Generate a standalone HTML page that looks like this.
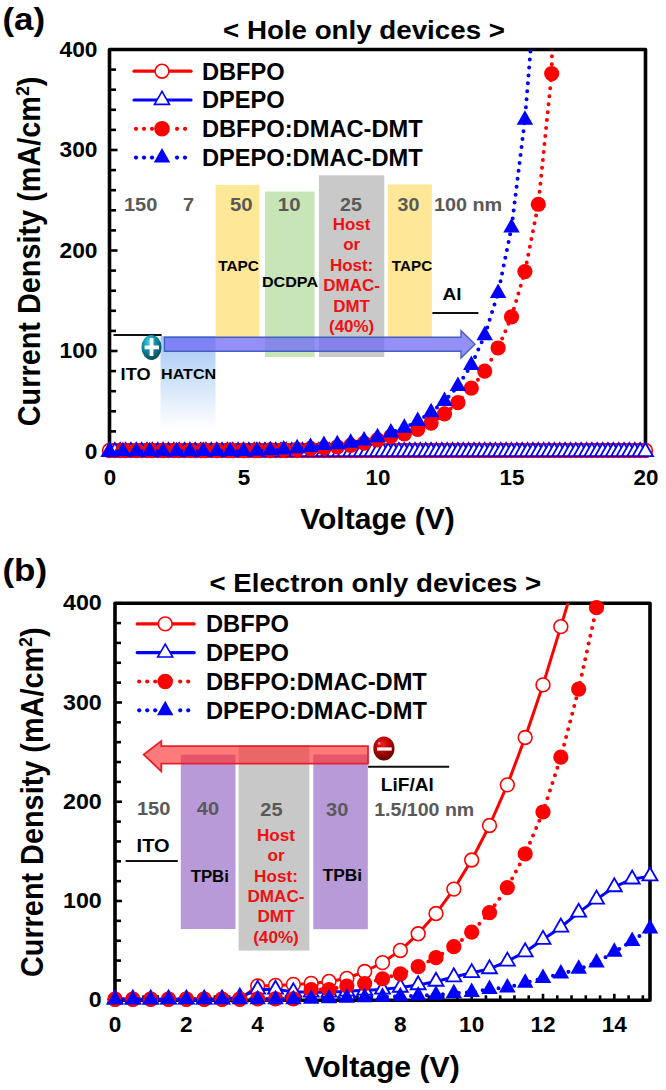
<!DOCTYPE html>
<html><head><meta charset="utf-8"><style>
html,body{margin:0;padding:0;background:#fff;}
svg{display:block;font-family:"Liberation Sans", sans-serif;}
</style></head><body>
<svg width="666" height="1090" viewBox="0 0 666 1090">
<rect width="666" height="1090" fill="#fff"/>
<defs>
<clipPath id="ca"><rect x="109.5" y="49.5" width="556.0" height="422.0"/></clipPath>
<clipPath id="cb"><rect x="115" y="603.2" width="560" height="420"/></clipPath>
<linearGradient id="hatcn" x1="0" y1="0" x2="0" y2="1"><stop offset="0" stop-color="#a3c7f4"/><stop offset="1" stop-color="#ffffff"/></linearGradient>
<radialGradient id="plusg" cx="0.38" cy="0.28" r="0.8"><stop offset="0" stop-color="#40d0e8"/><stop offset="0.45" stop-color="#1188a0"/><stop offset="1" stop-color="#064048"/></radialGradient>
<radialGradient id="minusg" cx="0.42" cy="0.3" r="0.85"><stop offset="0" stop-color="#f02020"/><stop offset="0.4" stop-color="#b80000"/><stop offset="1" stop-color="#3a0000"/></radialGradient>
</defs>
<rect x="160.5" y="336" width="55" height="92" fill="url(#hatcn)"/>
<rect x="215.6" y="184.9" width="43.9" height="152.5" fill="#fee796"/>
<rect x="265" y="191.5" width="49.6" height="165.5" fill="#c8e5b7"/>
<rect x="318.9" y="175.3" width="65.4" height="181.7" fill="#c9c9c9"/>
<rect x="387.8" y="184.5" width="44.1" height="152.9" fill="#fee796"/>
<text x="140.7" y="211.2" font-size="18.5" text-anchor="middle" fill="#595959" font-weight="bold" textLength="33.34" lengthAdjust="spacingAndGlyphs" >150</text>
<text x="188.6" y="211.2" font-size="18.5" text-anchor="middle" fill="#595959" font-weight="bold" textLength="11.11" lengthAdjust="spacingAndGlyphs" >7</text>
<text x="241.3" y="211.2" font-size="18.5" text-anchor="middle" fill="#595959" font-weight="bold" textLength="22.64" lengthAdjust="spacingAndGlyphs" >50</text>
<text x="289.2" y="211.2" font-size="18.5" text-anchor="middle" fill="#595959" font-weight="bold" textLength="22.64" lengthAdjust="spacingAndGlyphs" >10</text>
<text x="351" y="211.2" font-size="18.5" text-anchor="middle" fill="#595959" font-weight="bold" textLength="21.81" lengthAdjust="spacingAndGlyphs" >25</text>
<text x="408.5" y="211.2" font-size="18.5" text-anchor="middle" fill="#595959" font-weight="bold" textLength="21.81" lengthAdjust="spacingAndGlyphs" >30</text>
<text x="434" y="210.5" font-size="18.5" text-anchor="start" fill="#595959" font-weight="bold" textLength="68.22" lengthAdjust="spacingAndGlyphs" >100 nm</text>
<text x="238.6" y="270.7" font-size="14.8" text-anchor="middle" fill="#000" font-weight="bold" textLength="40.76" lengthAdjust="spacingAndGlyphs" >TAPC</text>
<text x="290" y="287" font-size="15.2" text-anchor="middle" fill="#000" font-weight="bold" textLength="56.09" lengthAdjust="spacingAndGlyphs" >DCDPA</text>
<text x="412" y="271" font-size="14.8" text-anchor="middle" fill="#000" font-weight="bold" textLength="40.37" lengthAdjust="spacingAndGlyphs" >TAPC</text>
<text x="351.6" y="229.8" font-size="16.3" text-anchor="middle" fill="#f01010" font-weight="bold" textLength="37.67" lengthAdjust="spacingAndGlyphs" >Host</text>
<text x="351.6" y="250.3" font-size="16.3" text-anchor="middle" fill="#f01010" font-weight="bold" textLength="16.95" lengthAdjust="spacingAndGlyphs" >or</text>
<text x="351.6" y="270.8" font-size="16.3" text-anchor="middle" fill="#f01010" font-weight="bold" textLength="43.32" lengthAdjust="spacingAndGlyphs" >Host:</text>
<text x="351.6" y="291.3" font-size="16.3" text-anchor="middle" fill="#f01010" font-weight="bold" textLength="56.49" lengthAdjust="spacingAndGlyphs" >DMAC-</text>
<text x="351.6" y="311.8" font-size="16.3" text-anchor="middle" fill="#f01010" font-weight="bold" textLength="36.72" lengthAdjust="spacingAndGlyphs" >DMT</text>
<text x="351.6" y="332.3" font-size="16.3" text-anchor="middle" fill="#f01010" font-weight="bold" textLength="45.22" lengthAdjust="spacingAndGlyphs" >(40%)</text>
<text x="452" y="300" font-size="17" text-anchor="middle" fill="#000" font-weight="bold" textLength="19.04" lengthAdjust="spacingAndGlyphs" >Al</text>
<line x1="432.4" y1="313" x2="478.4" y2="313" stroke="#111" stroke-width="2"/>
<line x1="113.5" y1="335" x2="161.6" y2="335" stroke="#111" stroke-width="2"/>
<text x="135.6" y="379.9" font-size="16.5" text-anchor="middle" fill="#000" font-weight="bold" textLength="29.92" lengthAdjust="spacingAndGlyphs" >ITO</text>
<text x="188.6" y="378.9" font-size="15" text-anchor="middle" fill="#000" font-weight="bold" textLength="54.98" lengthAdjust="spacingAndGlyphs" >HATCN</text>
<path d="M164.4,337.3 L461,337.3 L461,330.7 L475,344.3 L461,358 L461,351.3 L164.4,351.3 Z" fill="rgba(110,105,245,0.74)" stroke="#4460c0" stroke-width="1.4"/>
<ellipse cx="151.5" cy="347.4" rx="10" ry="12.5" fill="url(#plusg)"/>
<rect x="144.6" y="345.5" width="14.4" height="3.8" fill="#fff"/>
<rect x="149.6" y="338" width="3.8" height="18" fill="#fff"/>
<path d="M109.5,451.5 L109.5,49.5 L645.5,49.5 L645.5,451.5 Z" fill="none" stroke="#000" stroke-width="3.6" stroke-linejoin="round"/>
<line x1="109.5" y1="451.50" x2="117.5" y2="451.50" stroke="#000" stroke-width="2.6"/>
<line x1="109.5" y1="431.40" x2="116.0" y2="431.40" stroke="#000" stroke-width="2.6"/>
<line x1="109.5" y1="411.30" x2="116.0" y2="411.30" stroke="#000" stroke-width="2.6"/>
<line x1="109.5" y1="391.20" x2="116.0" y2="391.20" stroke="#000" stroke-width="2.6"/>
<line x1="109.5" y1="371.10" x2="116.0" y2="371.10" stroke="#000" stroke-width="2.6"/>
<line x1="109.5" y1="351.00" x2="117.5" y2="351.00" stroke="#000" stroke-width="2.6"/>
<line x1="109.5" y1="330.90" x2="116.0" y2="330.90" stroke="#000" stroke-width="2.6"/>
<line x1="109.5" y1="310.80" x2="116.0" y2="310.80" stroke="#000" stroke-width="2.6"/>
<line x1="109.5" y1="290.70" x2="116.0" y2="290.70" stroke="#000" stroke-width="2.6"/>
<line x1="109.5" y1="270.60" x2="116.0" y2="270.60" stroke="#000" stroke-width="2.6"/>
<line x1="109.5" y1="250.50" x2="117.5" y2="250.50" stroke="#000" stroke-width="2.6"/>
<line x1="109.5" y1="230.40" x2="116.0" y2="230.40" stroke="#000" stroke-width="2.6"/>
<line x1="109.5" y1="210.30" x2="116.0" y2="210.30" stroke="#000" stroke-width="2.6"/>
<line x1="109.5" y1="190.20" x2="116.0" y2="190.20" stroke="#000" stroke-width="2.6"/>
<line x1="109.5" y1="170.10" x2="116.0" y2="170.10" stroke="#000" stroke-width="2.6"/>
<line x1="109.5" y1="150.00" x2="117.5" y2="150.00" stroke="#000" stroke-width="2.6"/>
<line x1="109.5" y1="129.90" x2="116.0" y2="129.90" stroke="#000" stroke-width="2.6"/>
<line x1="109.5" y1="109.80" x2="116.0" y2="109.80" stroke="#000" stroke-width="2.6"/>
<line x1="109.5" y1="89.70" x2="116.0" y2="89.70" stroke="#000" stroke-width="2.6"/>
<line x1="109.5" y1="69.60" x2="116.0" y2="69.60" stroke="#000" stroke-width="2.6"/>
<line x1="109.5" y1="49.50" x2="117.5" y2="49.50" stroke="#000" stroke-width="2.6"/>
<text x="97.5" y="56.5" font-size="21.5" text-anchor="end" fill="#000" font-weight="bold" textLength="38.02" lengthAdjust="spacingAndGlyphs" >400</text>
<text x="97.5" y="157.0" font-size="21.5" text-anchor="end" fill="#000" font-weight="bold" textLength="38.02" lengthAdjust="spacingAndGlyphs" >300</text>
<text x="97.5" y="257.5" font-size="21.5" text-anchor="end" fill="#000" font-weight="bold" textLength="38.02" lengthAdjust="spacingAndGlyphs" >200</text>
<text x="97.5" y="358.0" font-size="21.5" text-anchor="end" fill="#000" font-weight="bold" textLength="38.02" lengthAdjust="spacingAndGlyphs" >100</text>
<text x="97.5" y="458.5" font-size="21.5" text-anchor="end" fill="#000" font-weight="bold" textLength="12.67" lengthAdjust="spacingAndGlyphs" >0</text>
<text x="110.0" y="484.9" font-size="21.5" text-anchor="middle" fill="#000" font-weight="bold" textLength="12.44" lengthAdjust="spacingAndGlyphs" >0</text>
<text x="244.0" y="484.9" font-size="21.5" text-anchor="middle" fill="#000" font-weight="bold" textLength="12.44" lengthAdjust="spacingAndGlyphs" >5</text>
<text x="378.0" y="484.9" font-size="21.5" text-anchor="middle" fill="#000" font-weight="bold" textLength="24.87" lengthAdjust="spacingAndGlyphs" >10</text>
<text x="512.0" y="484.9" font-size="21.5" text-anchor="middle" fill="#000" font-weight="bold" textLength="24.87" lengthAdjust="spacingAndGlyphs" >15</text>
<text x="646.0" y="484.9" font-size="21.5" text-anchor="middle" fill="#000" font-weight="bold" textLength="24.87" lengthAdjust="spacingAndGlyphs" >20</text>
<text x="377.5" y="528.5" font-size="29" text-anchor="middle" fill="#000" font-weight="bold" textLength="154.53" lengthAdjust="spacingAndGlyphs" >Voltage (V)</text>
<text x="40" y="251.4" font-size="31" font-weight="bold" text-anchor="middle" textLength="349.73" lengthAdjust="spacingAndGlyphs" transform="rotate(-90 40 251.4)">Current Density (mA/cm<tspan font-size="19.2" dy="-11.2">2</tspan><tspan dy="11.2">)</tspan></text>
<text x="23.8" y="29.5" font-size="31.5" text-anchor="middle" fill="#000" font-weight="bold" textLength="42.73" lengthAdjust="spacingAndGlyphs" >(a)</text>
<text x="364" y="38.8" font-size="26" text-anchor="middle" fill="#000" font-weight="bold" textLength="281.91" lengthAdjust="spacingAndGlyphs" >&lt; Hole only devices &gt;</text>
<g>
<path d="M109.50,450.50 L114.86,450.50 L120.22,450.50 L125.58,450.50 L130.94,450.50 L136.30,450.50 L141.66,450.50 L147.02,450.50 L152.38,450.50 L157.74,450.50 L163.10,450.50 L168.46,450.50 L173.82,450.50 L179.18,450.50 L184.54,450.50 L189.90,450.50 L195.26,450.50 L200.62,450.50 L205.98,450.50 L211.34,450.50 L216.70,450.50 L222.06,450.50 L227.42,450.50 L232.78,450.50 L238.14,450.50 L243.50,450.50 L248.86,450.50 L254.22,450.50 L259.58,450.50 L264.94,450.50 L270.30,450.50 L275.66,450.50 L281.02,450.50 L286.38,450.50 L291.74,450.50 L297.10,450.50 L302.46,450.50 L307.82,450.50 L313.18,450.50 L318.54,450.50 L323.90,450.50 L329.26,450.50 L334.62,450.50 L339.98,450.50 L345.34,450.50 L350.70,450.50 L356.06,450.50 L361.42,450.50 L366.78,450.50 L372.14,450.50 L377.50,450.50 L382.86,450.50 L388.22,450.50 L393.58,450.50 L398.94,450.50 L404.30,450.50 L409.66,450.50 L415.02,450.50 L420.38,450.50 L425.74,450.50 L431.10,450.50 L436.46,450.50 L441.82,450.50 L447.18,450.50 L452.54,450.50 L457.90,450.50 L463.26,450.50 L468.62,450.50 L473.98,450.50 L479.34,450.50 L484.70,450.50 L490.06,450.50 L495.42,450.50 L500.78,450.50 L506.14,450.50 L511.50,450.50 L516.86,450.50 L522.22,450.50 L527.58,450.50 L532.94,450.50 L538.30,450.50 L543.66,450.50 L549.02,450.50 L554.38,450.50 L559.74,450.50 L565.10,450.50 L570.46,450.50 L575.82,450.50 L581.18,450.50 L586.54,450.50 L591.90,450.50 L597.26,450.50 L602.62,450.50 L607.98,450.50 L613.34,450.50 L618.70,450.50 L624.06,450.50 L629.42,450.50 L634.78,450.50 L640.14,450.50 L645.50,450.50" fill="none" stroke="#ff0000" stroke-width="3" stroke-linejoin="round" clip-path="url(#ca)"/>
<circle cx="109.50" cy="450.50" r="6.9" fill="#fff" stroke="#ff0000" stroke-width="1.6"/>
<circle cx="114.86" cy="450.50" r="6.9" fill="#fff" stroke="#ff0000" stroke-width="1.6"/>
<circle cx="120.22" cy="450.50" r="6.9" fill="#fff" stroke="#ff0000" stroke-width="1.6"/>
<circle cx="125.58" cy="450.50" r="6.9" fill="#fff" stroke="#ff0000" stroke-width="1.6"/>
<circle cx="130.94" cy="450.50" r="6.9" fill="#fff" stroke="#ff0000" stroke-width="1.6"/>
<circle cx="136.30" cy="450.50" r="6.9" fill="#fff" stroke="#ff0000" stroke-width="1.6"/>
<circle cx="141.66" cy="450.50" r="6.9" fill="#fff" stroke="#ff0000" stroke-width="1.6"/>
<circle cx="147.02" cy="450.50" r="6.9" fill="#fff" stroke="#ff0000" stroke-width="1.6"/>
<circle cx="152.38" cy="450.50" r="6.9" fill="#fff" stroke="#ff0000" stroke-width="1.6"/>
<circle cx="157.74" cy="450.50" r="6.9" fill="#fff" stroke="#ff0000" stroke-width="1.6"/>
<circle cx="163.10" cy="450.50" r="6.9" fill="#fff" stroke="#ff0000" stroke-width="1.6"/>
<circle cx="168.46" cy="450.50" r="6.9" fill="#fff" stroke="#ff0000" stroke-width="1.6"/>
<circle cx="173.82" cy="450.50" r="6.9" fill="#fff" stroke="#ff0000" stroke-width="1.6"/>
<circle cx="179.18" cy="450.50" r="6.9" fill="#fff" stroke="#ff0000" stroke-width="1.6"/>
<circle cx="184.54" cy="450.50" r="6.9" fill="#fff" stroke="#ff0000" stroke-width="1.6"/>
<circle cx="189.90" cy="450.50" r="6.9" fill="#fff" stroke="#ff0000" stroke-width="1.6"/>
<circle cx="195.26" cy="450.50" r="6.9" fill="#fff" stroke="#ff0000" stroke-width="1.6"/>
<circle cx="200.62" cy="450.50" r="6.9" fill="#fff" stroke="#ff0000" stroke-width="1.6"/>
<circle cx="205.98" cy="450.50" r="6.9" fill="#fff" stroke="#ff0000" stroke-width="1.6"/>
<circle cx="211.34" cy="450.50" r="6.9" fill="#fff" stroke="#ff0000" stroke-width="1.6"/>
<circle cx="216.70" cy="450.50" r="6.9" fill="#fff" stroke="#ff0000" stroke-width="1.6"/>
<circle cx="222.06" cy="450.50" r="6.9" fill="#fff" stroke="#ff0000" stroke-width="1.6"/>
<circle cx="227.42" cy="450.50" r="6.9" fill="#fff" stroke="#ff0000" stroke-width="1.6"/>
<circle cx="232.78" cy="450.50" r="6.9" fill="#fff" stroke="#ff0000" stroke-width="1.6"/>
<circle cx="238.14" cy="450.50" r="6.9" fill="#fff" stroke="#ff0000" stroke-width="1.6"/>
<circle cx="243.50" cy="450.50" r="6.9" fill="#fff" stroke="#ff0000" stroke-width="1.6"/>
<circle cx="248.86" cy="450.50" r="6.9" fill="#fff" stroke="#ff0000" stroke-width="1.6"/>
<circle cx="254.22" cy="450.50" r="6.9" fill="#fff" stroke="#ff0000" stroke-width="1.6"/>
<circle cx="259.58" cy="450.50" r="6.9" fill="#fff" stroke="#ff0000" stroke-width="1.6"/>
<circle cx="264.94" cy="450.50" r="6.9" fill="#fff" stroke="#ff0000" stroke-width="1.6"/>
<circle cx="270.30" cy="450.50" r="6.9" fill="#fff" stroke="#ff0000" stroke-width="1.6"/>
<circle cx="275.66" cy="450.50" r="6.9" fill="#fff" stroke="#ff0000" stroke-width="1.6"/>
<circle cx="281.02" cy="450.50" r="6.9" fill="#fff" stroke="#ff0000" stroke-width="1.6"/>
<circle cx="286.38" cy="450.50" r="6.9" fill="#fff" stroke="#ff0000" stroke-width="1.6"/>
<circle cx="291.74" cy="450.50" r="6.9" fill="#fff" stroke="#ff0000" stroke-width="1.6"/>
<circle cx="297.10" cy="450.50" r="6.9" fill="#fff" stroke="#ff0000" stroke-width="1.6"/>
<circle cx="302.46" cy="450.50" r="6.9" fill="#fff" stroke="#ff0000" stroke-width="1.6"/>
<circle cx="307.82" cy="450.50" r="6.9" fill="#fff" stroke="#ff0000" stroke-width="1.6"/>
<circle cx="313.18" cy="450.50" r="6.9" fill="#fff" stroke="#ff0000" stroke-width="1.6"/>
<circle cx="318.54" cy="450.50" r="6.9" fill="#fff" stroke="#ff0000" stroke-width="1.6"/>
<circle cx="323.90" cy="450.50" r="6.9" fill="#fff" stroke="#ff0000" stroke-width="1.6"/>
<circle cx="329.26" cy="450.50" r="6.9" fill="#fff" stroke="#ff0000" stroke-width="1.6"/>
<circle cx="334.62" cy="450.50" r="6.9" fill="#fff" stroke="#ff0000" stroke-width="1.6"/>
<circle cx="339.98" cy="450.50" r="6.9" fill="#fff" stroke="#ff0000" stroke-width="1.6"/>
<circle cx="345.34" cy="450.50" r="6.9" fill="#fff" stroke="#ff0000" stroke-width="1.6"/>
<circle cx="350.70" cy="450.50" r="6.9" fill="#fff" stroke="#ff0000" stroke-width="1.6"/>
<circle cx="356.06" cy="450.50" r="6.9" fill="#fff" stroke="#ff0000" stroke-width="1.6"/>
<circle cx="361.42" cy="450.50" r="6.9" fill="#fff" stroke="#ff0000" stroke-width="1.6"/>
<circle cx="366.78" cy="450.50" r="6.9" fill="#fff" stroke="#ff0000" stroke-width="1.6"/>
<circle cx="372.14" cy="450.50" r="6.9" fill="#fff" stroke="#ff0000" stroke-width="1.6"/>
<circle cx="377.50" cy="450.50" r="6.9" fill="#fff" stroke="#ff0000" stroke-width="1.6"/>
<circle cx="382.86" cy="450.50" r="6.9" fill="#fff" stroke="#ff0000" stroke-width="1.6"/>
<circle cx="388.22" cy="450.50" r="6.9" fill="#fff" stroke="#ff0000" stroke-width="1.6"/>
<circle cx="393.58" cy="450.50" r="6.9" fill="#fff" stroke="#ff0000" stroke-width="1.6"/>
<circle cx="398.94" cy="450.50" r="6.9" fill="#fff" stroke="#ff0000" stroke-width="1.6"/>
<circle cx="404.30" cy="450.50" r="6.9" fill="#fff" stroke="#ff0000" stroke-width="1.6"/>
<circle cx="409.66" cy="450.50" r="6.9" fill="#fff" stroke="#ff0000" stroke-width="1.6"/>
<circle cx="415.02" cy="450.50" r="6.9" fill="#fff" stroke="#ff0000" stroke-width="1.6"/>
<circle cx="420.38" cy="450.50" r="6.9" fill="#fff" stroke="#ff0000" stroke-width="1.6"/>
<circle cx="425.74" cy="450.50" r="6.9" fill="#fff" stroke="#ff0000" stroke-width="1.6"/>
<circle cx="431.10" cy="450.50" r="6.9" fill="#fff" stroke="#ff0000" stroke-width="1.6"/>
<circle cx="436.46" cy="450.50" r="6.9" fill="#fff" stroke="#ff0000" stroke-width="1.6"/>
<circle cx="441.82" cy="450.50" r="6.9" fill="#fff" stroke="#ff0000" stroke-width="1.6"/>
<circle cx="447.18" cy="450.50" r="6.9" fill="#fff" stroke="#ff0000" stroke-width="1.6"/>
<circle cx="452.54" cy="450.50" r="6.9" fill="#fff" stroke="#ff0000" stroke-width="1.6"/>
<circle cx="457.90" cy="450.50" r="6.9" fill="#fff" stroke="#ff0000" stroke-width="1.6"/>
<circle cx="463.26" cy="450.50" r="6.9" fill="#fff" stroke="#ff0000" stroke-width="1.6"/>
<circle cx="468.62" cy="450.50" r="6.9" fill="#fff" stroke="#ff0000" stroke-width="1.6"/>
<circle cx="473.98" cy="450.50" r="6.9" fill="#fff" stroke="#ff0000" stroke-width="1.6"/>
<circle cx="479.34" cy="450.50" r="6.9" fill="#fff" stroke="#ff0000" stroke-width="1.6"/>
<circle cx="484.70" cy="450.50" r="6.9" fill="#fff" stroke="#ff0000" stroke-width="1.6"/>
<circle cx="490.06" cy="450.50" r="6.9" fill="#fff" stroke="#ff0000" stroke-width="1.6"/>
<circle cx="495.42" cy="450.50" r="6.9" fill="#fff" stroke="#ff0000" stroke-width="1.6"/>
<circle cx="500.78" cy="450.50" r="6.9" fill="#fff" stroke="#ff0000" stroke-width="1.6"/>
<circle cx="506.14" cy="450.50" r="6.9" fill="#fff" stroke="#ff0000" stroke-width="1.6"/>
<circle cx="511.50" cy="450.50" r="6.9" fill="#fff" stroke="#ff0000" stroke-width="1.6"/>
<circle cx="516.86" cy="450.50" r="6.9" fill="#fff" stroke="#ff0000" stroke-width="1.6"/>
<circle cx="522.22" cy="450.50" r="6.9" fill="#fff" stroke="#ff0000" stroke-width="1.6"/>
<circle cx="527.58" cy="450.50" r="6.9" fill="#fff" stroke="#ff0000" stroke-width="1.6"/>
<circle cx="532.94" cy="450.50" r="6.9" fill="#fff" stroke="#ff0000" stroke-width="1.6"/>
<circle cx="538.30" cy="450.50" r="6.9" fill="#fff" stroke="#ff0000" stroke-width="1.6"/>
<circle cx="543.66" cy="450.50" r="6.9" fill="#fff" stroke="#ff0000" stroke-width="1.6"/>
<circle cx="549.02" cy="450.50" r="6.9" fill="#fff" stroke="#ff0000" stroke-width="1.6"/>
<circle cx="554.38" cy="450.50" r="6.9" fill="#fff" stroke="#ff0000" stroke-width="1.6"/>
<circle cx="559.74" cy="450.50" r="6.9" fill="#fff" stroke="#ff0000" stroke-width="1.6"/>
<circle cx="565.10" cy="450.50" r="6.9" fill="#fff" stroke="#ff0000" stroke-width="1.6"/>
<circle cx="570.46" cy="450.50" r="6.9" fill="#fff" stroke="#ff0000" stroke-width="1.6"/>
<circle cx="575.82" cy="450.50" r="6.9" fill="#fff" stroke="#ff0000" stroke-width="1.6"/>
<circle cx="581.18" cy="450.50" r="6.9" fill="#fff" stroke="#ff0000" stroke-width="1.6"/>
<circle cx="586.54" cy="450.50" r="6.9" fill="#fff" stroke="#ff0000" stroke-width="1.6"/>
<circle cx="591.90" cy="450.50" r="6.9" fill="#fff" stroke="#ff0000" stroke-width="1.6"/>
<circle cx="597.26" cy="450.50" r="6.9" fill="#fff" stroke="#ff0000" stroke-width="1.6"/>
<circle cx="602.62" cy="450.50" r="6.9" fill="#fff" stroke="#ff0000" stroke-width="1.6"/>
<circle cx="607.98" cy="450.50" r="6.9" fill="#fff" stroke="#ff0000" stroke-width="1.6"/>
<circle cx="613.34" cy="450.50" r="6.9" fill="#fff" stroke="#ff0000" stroke-width="1.6"/>
<circle cx="618.70" cy="450.50" r="6.9" fill="#fff" stroke="#ff0000" stroke-width="1.6"/>
<circle cx="624.06" cy="450.50" r="6.9" fill="#fff" stroke="#ff0000" stroke-width="1.6"/>
<circle cx="629.42" cy="450.50" r="6.9" fill="#fff" stroke="#ff0000" stroke-width="1.6"/>
<circle cx="634.78" cy="450.50" r="6.9" fill="#fff" stroke="#ff0000" stroke-width="1.6"/>
<circle cx="640.14" cy="450.50" r="6.9" fill="#fff" stroke="#ff0000" stroke-width="1.6"/>
<circle cx="645.50" cy="450.50" r="6.9" fill="#fff" stroke="#ff0000" stroke-width="1.6"/>
<path d="M109.50,451.70 L114.86,451.70 L120.22,451.70 L125.58,451.70 L130.94,451.70 L136.30,451.70 L141.66,451.70 L147.02,451.70 L152.38,451.70 L157.74,451.70 L163.10,451.70 L168.46,451.70 L173.82,451.70 L179.18,451.70 L184.54,451.70 L189.90,451.70 L195.26,451.70 L200.62,451.70 L205.98,451.70 L211.34,451.70 L216.70,451.70 L222.06,451.70 L227.42,451.70 L232.78,451.70 L238.14,451.70 L243.50,451.70 L248.86,451.70 L254.22,451.70 L259.58,451.70 L264.94,451.70 L270.30,451.70 L275.66,451.70 L281.02,451.70 L286.38,451.70 L291.74,451.70 L297.10,451.70 L302.46,451.70 L307.82,451.70 L313.18,451.70 L318.54,451.70 L323.90,451.70 L329.26,451.70 L334.62,451.70 L339.98,451.70 L345.34,451.70 L350.70,451.70 L356.06,451.70 L361.42,451.70 L366.78,451.70 L372.14,451.70 L377.50,451.70 L382.86,451.70 L388.22,451.70 L393.58,451.70 L398.94,451.70 L404.30,451.70 L409.66,451.70 L415.02,451.70 L420.38,451.70 L425.74,451.70 L431.10,451.70 L436.46,451.70 L441.82,451.70 L447.18,451.70 L452.54,451.70 L457.90,451.70 L463.26,451.70 L468.62,451.70 L473.98,451.70 L479.34,451.70 L484.70,451.70 L490.06,451.70 L495.42,451.70 L500.78,451.70 L506.14,451.70 L511.50,451.70 L516.86,451.70 L522.22,451.70 L527.58,451.70 L532.94,451.70 L538.30,451.70 L543.66,451.70 L549.02,451.70 L554.38,451.70 L559.74,451.70 L565.10,451.70 L570.46,451.70 L575.82,451.70 L581.18,451.70 L586.54,451.70 L591.90,451.70 L597.26,451.70 L602.62,451.70 L607.98,451.70 L613.34,451.70 L618.70,451.70 L624.06,451.70 L629.42,451.70 L634.78,451.70 L640.14,451.70 L645.50,451.70" fill="none" stroke="#0000ff" stroke-width="3" stroke-linejoin="round" clip-path="url(#ca)"/>
<polygon points="109.50,443.03 102.00,456.03 117.00,456.03" fill="#fff" stroke="#0000ff" stroke-width="1.8" stroke-linejoin="miter"/>
<polygon points="114.86,443.03 107.36,456.03 122.36,456.03" fill="#fff" stroke="#0000ff" stroke-width="1.8" stroke-linejoin="miter"/>
<polygon points="120.22,443.03 112.72,456.03 127.72,456.03" fill="#fff" stroke="#0000ff" stroke-width="1.8" stroke-linejoin="miter"/>
<polygon points="125.58,443.03 118.08,456.03 133.08,456.03" fill="#fff" stroke="#0000ff" stroke-width="1.8" stroke-linejoin="miter"/>
<polygon points="130.94,443.03 123.44,456.03 138.44,456.03" fill="#fff" stroke="#0000ff" stroke-width="1.8" stroke-linejoin="miter"/>
<polygon points="136.30,443.03 128.80,456.03 143.80,456.03" fill="#fff" stroke="#0000ff" stroke-width="1.8" stroke-linejoin="miter"/>
<polygon points="141.66,443.03 134.16,456.03 149.16,456.03" fill="#fff" stroke="#0000ff" stroke-width="1.8" stroke-linejoin="miter"/>
<polygon points="147.02,443.03 139.52,456.03 154.52,456.03" fill="#fff" stroke="#0000ff" stroke-width="1.8" stroke-linejoin="miter"/>
<polygon points="152.38,443.03 144.88,456.03 159.88,456.03" fill="#fff" stroke="#0000ff" stroke-width="1.8" stroke-linejoin="miter"/>
<polygon points="157.74,443.03 150.24,456.03 165.24,456.03" fill="#fff" stroke="#0000ff" stroke-width="1.8" stroke-linejoin="miter"/>
<polygon points="163.10,443.03 155.60,456.03 170.60,456.03" fill="#fff" stroke="#0000ff" stroke-width="1.8" stroke-linejoin="miter"/>
<polygon points="168.46,443.03 160.96,456.03 175.96,456.03" fill="#fff" stroke="#0000ff" stroke-width="1.8" stroke-linejoin="miter"/>
<polygon points="173.82,443.03 166.32,456.03 181.32,456.03" fill="#fff" stroke="#0000ff" stroke-width="1.8" stroke-linejoin="miter"/>
<polygon points="179.18,443.03 171.68,456.03 186.68,456.03" fill="#fff" stroke="#0000ff" stroke-width="1.8" stroke-linejoin="miter"/>
<polygon points="184.54,443.03 177.04,456.03 192.04,456.03" fill="#fff" stroke="#0000ff" stroke-width="1.8" stroke-linejoin="miter"/>
<polygon points="189.90,443.03 182.40,456.03 197.40,456.03" fill="#fff" stroke="#0000ff" stroke-width="1.8" stroke-linejoin="miter"/>
<polygon points="195.26,443.03 187.76,456.03 202.76,456.03" fill="#fff" stroke="#0000ff" stroke-width="1.8" stroke-linejoin="miter"/>
<polygon points="200.62,443.03 193.12,456.03 208.12,456.03" fill="#fff" stroke="#0000ff" stroke-width="1.8" stroke-linejoin="miter"/>
<polygon points="205.98,443.03 198.48,456.03 213.48,456.03" fill="#fff" stroke="#0000ff" stroke-width="1.8" stroke-linejoin="miter"/>
<polygon points="211.34,443.03 203.84,456.03 218.84,456.03" fill="#fff" stroke="#0000ff" stroke-width="1.8" stroke-linejoin="miter"/>
<polygon points="216.70,443.03 209.20,456.03 224.20,456.03" fill="#fff" stroke="#0000ff" stroke-width="1.8" stroke-linejoin="miter"/>
<polygon points="222.06,443.03 214.56,456.03 229.56,456.03" fill="#fff" stroke="#0000ff" stroke-width="1.8" stroke-linejoin="miter"/>
<polygon points="227.42,443.03 219.92,456.03 234.92,456.03" fill="#fff" stroke="#0000ff" stroke-width="1.8" stroke-linejoin="miter"/>
<polygon points="232.78,443.03 225.28,456.03 240.28,456.03" fill="#fff" stroke="#0000ff" stroke-width="1.8" stroke-linejoin="miter"/>
<polygon points="238.14,443.03 230.64,456.03 245.64,456.03" fill="#fff" stroke="#0000ff" stroke-width="1.8" stroke-linejoin="miter"/>
<polygon points="243.50,443.03 236.00,456.03 251.00,456.03" fill="#fff" stroke="#0000ff" stroke-width="1.8" stroke-linejoin="miter"/>
<polygon points="248.86,443.03 241.36,456.03 256.36,456.03" fill="#fff" stroke="#0000ff" stroke-width="1.8" stroke-linejoin="miter"/>
<polygon points="254.22,443.03 246.72,456.03 261.72,456.03" fill="#fff" stroke="#0000ff" stroke-width="1.8" stroke-linejoin="miter"/>
<polygon points="259.58,443.03 252.08,456.03 267.08,456.03" fill="#fff" stroke="#0000ff" stroke-width="1.8" stroke-linejoin="miter"/>
<polygon points="264.94,443.03 257.44,456.03 272.44,456.03" fill="#fff" stroke="#0000ff" stroke-width="1.8" stroke-linejoin="miter"/>
<polygon points="270.30,443.03 262.80,456.03 277.80,456.03" fill="#fff" stroke="#0000ff" stroke-width="1.8" stroke-linejoin="miter"/>
<polygon points="275.66,443.03 268.16,456.03 283.16,456.03" fill="#fff" stroke="#0000ff" stroke-width="1.8" stroke-linejoin="miter"/>
<polygon points="281.02,443.03 273.52,456.03 288.52,456.03" fill="#fff" stroke="#0000ff" stroke-width="1.8" stroke-linejoin="miter"/>
<polygon points="286.38,443.03 278.88,456.03 293.88,456.03" fill="#fff" stroke="#0000ff" stroke-width="1.8" stroke-linejoin="miter"/>
<polygon points="291.74,443.03 284.24,456.03 299.24,456.03" fill="#fff" stroke="#0000ff" stroke-width="1.8" stroke-linejoin="miter"/>
<polygon points="297.10,443.03 289.60,456.03 304.60,456.03" fill="#fff" stroke="#0000ff" stroke-width="1.8" stroke-linejoin="miter"/>
<polygon points="302.46,443.03 294.96,456.03 309.96,456.03" fill="#fff" stroke="#0000ff" stroke-width="1.8" stroke-linejoin="miter"/>
<polygon points="307.82,443.03 300.32,456.03 315.32,456.03" fill="#fff" stroke="#0000ff" stroke-width="1.8" stroke-linejoin="miter"/>
<polygon points="313.18,443.03 305.68,456.03 320.68,456.03" fill="#fff" stroke="#0000ff" stroke-width="1.8" stroke-linejoin="miter"/>
<polygon points="318.54,443.03 311.04,456.03 326.04,456.03" fill="#fff" stroke="#0000ff" stroke-width="1.8" stroke-linejoin="miter"/>
<polygon points="323.90,443.03 316.40,456.03 331.40,456.03" fill="#fff" stroke="#0000ff" stroke-width="1.8" stroke-linejoin="miter"/>
<polygon points="329.26,443.03 321.76,456.03 336.76,456.03" fill="#fff" stroke="#0000ff" stroke-width="1.8" stroke-linejoin="miter"/>
<polygon points="334.62,443.03 327.12,456.03 342.12,456.03" fill="#fff" stroke="#0000ff" stroke-width="1.8" stroke-linejoin="miter"/>
<polygon points="339.98,443.03 332.48,456.03 347.48,456.03" fill="#fff" stroke="#0000ff" stroke-width="1.8" stroke-linejoin="miter"/>
<polygon points="345.34,443.03 337.84,456.03 352.84,456.03" fill="#fff" stroke="#0000ff" stroke-width="1.8" stroke-linejoin="miter"/>
<polygon points="350.70,443.03 343.20,456.03 358.20,456.03" fill="#fff" stroke="#0000ff" stroke-width="1.8" stroke-linejoin="miter"/>
<polygon points="356.06,443.03 348.56,456.03 363.56,456.03" fill="#fff" stroke="#0000ff" stroke-width="1.8" stroke-linejoin="miter"/>
<polygon points="361.42,443.03 353.92,456.03 368.92,456.03" fill="#fff" stroke="#0000ff" stroke-width="1.8" stroke-linejoin="miter"/>
<polygon points="366.78,443.03 359.28,456.03 374.28,456.03" fill="#fff" stroke="#0000ff" stroke-width="1.8" stroke-linejoin="miter"/>
<polygon points="372.14,443.03 364.64,456.03 379.64,456.03" fill="#fff" stroke="#0000ff" stroke-width="1.8" stroke-linejoin="miter"/>
<polygon points="377.50,443.03 370.00,456.03 385.00,456.03" fill="#fff" stroke="#0000ff" stroke-width="1.8" stroke-linejoin="miter"/>
<polygon points="382.86,443.03 375.36,456.03 390.36,456.03" fill="#fff" stroke="#0000ff" stroke-width="1.8" stroke-linejoin="miter"/>
<polygon points="388.22,443.03 380.72,456.03 395.72,456.03" fill="#fff" stroke="#0000ff" stroke-width="1.8" stroke-linejoin="miter"/>
<polygon points="393.58,443.03 386.08,456.03 401.08,456.03" fill="#fff" stroke="#0000ff" stroke-width="1.8" stroke-linejoin="miter"/>
<polygon points="398.94,443.03 391.44,456.03 406.44,456.03" fill="#fff" stroke="#0000ff" stroke-width="1.8" stroke-linejoin="miter"/>
<polygon points="404.30,443.03 396.80,456.03 411.80,456.03" fill="#fff" stroke="#0000ff" stroke-width="1.8" stroke-linejoin="miter"/>
<polygon points="409.66,443.03 402.16,456.03 417.16,456.03" fill="#fff" stroke="#0000ff" stroke-width="1.8" stroke-linejoin="miter"/>
<polygon points="415.02,443.03 407.52,456.03 422.52,456.03" fill="#fff" stroke="#0000ff" stroke-width="1.8" stroke-linejoin="miter"/>
<polygon points="420.38,443.03 412.88,456.03 427.88,456.03" fill="#fff" stroke="#0000ff" stroke-width="1.8" stroke-linejoin="miter"/>
<polygon points="425.74,443.03 418.24,456.03 433.24,456.03" fill="#fff" stroke="#0000ff" stroke-width="1.8" stroke-linejoin="miter"/>
<polygon points="431.10,443.03 423.60,456.03 438.60,456.03" fill="#fff" stroke="#0000ff" stroke-width="1.8" stroke-linejoin="miter"/>
<polygon points="436.46,443.03 428.96,456.03 443.96,456.03" fill="#fff" stroke="#0000ff" stroke-width="1.8" stroke-linejoin="miter"/>
<polygon points="441.82,443.03 434.32,456.03 449.32,456.03" fill="#fff" stroke="#0000ff" stroke-width="1.8" stroke-linejoin="miter"/>
<polygon points="447.18,443.03 439.68,456.03 454.68,456.03" fill="#fff" stroke="#0000ff" stroke-width="1.8" stroke-linejoin="miter"/>
<polygon points="452.54,443.03 445.04,456.03 460.04,456.03" fill="#fff" stroke="#0000ff" stroke-width="1.8" stroke-linejoin="miter"/>
<polygon points="457.90,443.03 450.40,456.03 465.40,456.03" fill="#fff" stroke="#0000ff" stroke-width="1.8" stroke-linejoin="miter"/>
<polygon points="463.26,443.03 455.76,456.03 470.76,456.03" fill="#fff" stroke="#0000ff" stroke-width="1.8" stroke-linejoin="miter"/>
<polygon points="468.62,443.03 461.12,456.03 476.12,456.03" fill="#fff" stroke="#0000ff" stroke-width="1.8" stroke-linejoin="miter"/>
<polygon points="473.98,443.03 466.48,456.03 481.48,456.03" fill="#fff" stroke="#0000ff" stroke-width="1.8" stroke-linejoin="miter"/>
<polygon points="479.34,443.03 471.84,456.03 486.84,456.03" fill="#fff" stroke="#0000ff" stroke-width="1.8" stroke-linejoin="miter"/>
<polygon points="484.70,443.03 477.20,456.03 492.20,456.03" fill="#fff" stroke="#0000ff" stroke-width="1.8" stroke-linejoin="miter"/>
<polygon points="490.06,443.03 482.56,456.03 497.56,456.03" fill="#fff" stroke="#0000ff" stroke-width="1.8" stroke-linejoin="miter"/>
<polygon points="495.42,443.03 487.92,456.03 502.92,456.03" fill="#fff" stroke="#0000ff" stroke-width="1.8" stroke-linejoin="miter"/>
<polygon points="500.78,443.03 493.28,456.03 508.28,456.03" fill="#fff" stroke="#0000ff" stroke-width="1.8" stroke-linejoin="miter"/>
<polygon points="506.14,443.03 498.64,456.03 513.64,456.03" fill="#fff" stroke="#0000ff" stroke-width="1.8" stroke-linejoin="miter"/>
<polygon points="511.50,443.03 504.00,456.03 519.00,456.03" fill="#fff" stroke="#0000ff" stroke-width="1.8" stroke-linejoin="miter"/>
<polygon points="516.86,443.03 509.36,456.03 524.36,456.03" fill="#fff" stroke="#0000ff" stroke-width="1.8" stroke-linejoin="miter"/>
<polygon points="522.22,443.03 514.72,456.03 529.72,456.03" fill="#fff" stroke="#0000ff" stroke-width="1.8" stroke-linejoin="miter"/>
<polygon points="527.58,443.03 520.08,456.03 535.08,456.03" fill="#fff" stroke="#0000ff" stroke-width="1.8" stroke-linejoin="miter"/>
<polygon points="532.94,443.03 525.44,456.03 540.44,456.03" fill="#fff" stroke="#0000ff" stroke-width="1.8" stroke-linejoin="miter"/>
<polygon points="538.30,443.03 530.80,456.03 545.80,456.03" fill="#fff" stroke="#0000ff" stroke-width="1.8" stroke-linejoin="miter"/>
<polygon points="543.66,443.03 536.16,456.03 551.16,456.03" fill="#fff" stroke="#0000ff" stroke-width="1.8" stroke-linejoin="miter"/>
<polygon points="549.02,443.03 541.52,456.03 556.52,456.03" fill="#fff" stroke="#0000ff" stroke-width="1.8" stroke-linejoin="miter"/>
<polygon points="554.38,443.03 546.88,456.03 561.88,456.03" fill="#fff" stroke="#0000ff" stroke-width="1.8" stroke-linejoin="miter"/>
<polygon points="559.74,443.03 552.24,456.03 567.24,456.03" fill="#fff" stroke="#0000ff" stroke-width="1.8" stroke-linejoin="miter"/>
<polygon points="565.10,443.03 557.60,456.03 572.60,456.03" fill="#fff" stroke="#0000ff" stroke-width="1.8" stroke-linejoin="miter"/>
<polygon points="570.46,443.03 562.96,456.03 577.96,456.03" fill="#fff" stroke="#0000ff" stroke-width="1.8" stroke-linejoin="miter"/>
<polygon points="575.82,443.03 568.32,456.03 583.32,456.03" fill="#fff" stroke="#0000ff" stroke-width="1.8" stroke-linejoin="miter"/>
<polygon points="581.18,443.03 573.68,456.03 588.68,456.03" fill="#fff" stroke="#0000ff" stroke-width="1.8" stroke-linejoin="miter"/>
<polygon points="586.54,443.03 579.04,456.03 594.04,456.03" fill="#fff" stroke="#0000ff" stroke-width="1.8" stroke-linejoin="miter"/>
<polygon points="591.90,443.03 584.40,456.03 599.40,456.03" fill="#fff" stroke="#0000ff" stroke-width="1.8" stroke-linejoin="miter"/>
<polygon points="597.26,443.03 589.76,456.03 604.76,456.03" fill="#fff" stroke="#0000ff" stroke-width="1.8" stroke-linejoin="miter"/>
<polygon points="602.62,443.03 595.12,456.03 610.12,456.03" fill="#fff" stroke="#0000ff" stroke-width="1.8" stroke-linejoin="miter"/>
<polygon points="607.98,443.03 600.48,456.03 615.48,456.03" fill="#fff" stroke="#0000ff" stroke-width="1.8" stroke-linejoin="miter"/>
<polygon points="613.34,443.03 605.84,456.03 620.84,456.03" fill="#fff" stroke="#0000ff" stroke-width="1.8" stroke-linejoin="miter"/>
<polygon points="618.70,443.03 611.20,456.03 626.20,456.03" fill="#fff" stroke="#0000ff" stroke-width="1.8" stroke-linejoin="miter"/>
<polygon points="624.06,443.03 616.56,456.03 631.56,456.03" fill="#fff" stroke="#0000ff" stroke-width="1.8" stroke-linejoin="miter"/>
<polygon points="629.42,443.03 621.92,456.03 636.92,456.03" fill="#fff" stroke="#0000ff" stroke-width="1.8" stroke-linejoin="miter"/>
<polygon points="634.78,443.03 627.28,456.03 642.28,456.03" fill="#fff" stroke="#0000ff" stroke-width="1.8" stroke-linejoin="miter"/>
<polygon points="640.14,443.03 632.64,456.03 647.64,456.03" fill="#fff" stroke="#0000ff" stroke-width="1.8" stroke-linejoin="miter"/>
<polygon points="645.50,443.03 638.00,456.03 653.00,456.03" fill="#fff" stroke="#0000ff" stroke-width="1.8" stroke-linejoin="miter"/>
<path d="M122.90,450.28 L136.30,450.27 L149.70,450.26 L163.10,450.25 L176.50,450.24 L189.90,450.23 L203.30,450.22 L216.70,450.21 L230.10,450.20 L243.50,450.19 L256.90,450.05 L270.30,449.89 L283.70,449.61 L297.10,449.29 L310.50,448.69 L323.90,447.98 L337.30,446.78 L350.70,445.47 L364.10,443.16 L377.50,439.94 L390.90,436.43 L404.30,433.91 L417.70,429.39 L431.10,423.06 L444.50,413.81 L457.90,402.66 L471.30,388.19 L484.70,371.10 L498.10,347.99 L511.50,316.83 L524.90,271.61 L538.30,204.27 L551.70,73.62 L565.10,-1056.00" fill="none" stroke="#ff0000" stroke-width="4" stroke-dasharray="0 8" stroke-linecap="round" clip-path="url(#ca)"/>
<circle cx="122.90" cy="450.28" r="7.6" fill="#ff0000"/>
<circle cx="136.30" cy="450.27" r="7.6" fill="#ff0000"/>
<circle cx="149.70" cy="450.26" r="7.6" fill="#ff0000"/>
<circle cx="163.10" cy="450.25" r="7.6" fill="#ff0000"/>
<circle cx="176.50" cy="450.24" r="7.6" fill="#ff0000"/>
<circle cx="189.90" cy="450.23" r="7.6" fill="#ff0000"/>
<circle cx="203.30" cy="450.22" r="7.6" fill="#ff0000"/>
<circle cx="216.70" cy="450.21" r="7.6" fill="#ff0000"/>
<circle cx="230.10" cy="450.20" r="7.6" fill="#ff0000"/>
<circle cx="243.50" cy="450.19" r="7.6" fill="#ff0000"/>
<circle cx="256.90" cy="450.05" r="7.6" fill="#ff0000"/>
<circle cx="270.30" cy="449.89" r="7.6" fill="#ff0000"/>
<circle cx="283.70" cy="449.61" r="7.6" fill="#ff0000"/>
<circle cx="297.10" cy="449.29" r="7.6" fill="#ff0000"/>
<circle cx="310.50" cy="448.69" r="7.6" fill="#ff0000"/>
<circle cx="323.90" cy="447.98" r="7.6" fill="#ff0000"/>
<circle cx="337.30" cy="446.78" r="7.6" fill="#ff0000"/>
<circle cx="350.70" cy="445.47" r="7.6" fill="#ff0000"/>
<circle cx="364.10" cy="443.16" r="7.6" fill="#ff0000"/>
<circle cx="377.50" cy="439.94" r="7.6" fill="#ff0000"/>
<circle cx="390.90" cy="436.43" r="7.6" fill="#ff0000"/>
<circle cx="404.30" cy="433.91" r="7.6" fill="#ff0000"/>
<circle cx="417.70" cy="429.39" r="7.6" fill="#ff0000"/>
<circle cx="431.10" cy="423.06" r="7.6" fill="#ff0000"/>
<circle cx="444.50" cy="413.81" r="7.6" fill="#ff0000"/>
<circle cx="457.90" cy="402.66" r="7.6" fill="#ff0000"/>
<circle cx="471.30" cy="388.19" r="7.6" fill="#ff0000"/>
<circle cx="484.70" cy="371.10" r="7.6" fill="#ff0000"/>
<circle cx="498.10" cy="347.99" r="7.6" fill="#ff0000"/>
<circle cx="511.50" cy="316.83" r="7.6" fill="#ff0000"/>
<circle cx="524.90" cy="271.61" r="7.6" fill="#ff0000"/>
<circle cx="538.30" cy="204.27" r="7.6" fill="#ff0000"/>
<circle cx="551.70" cy="73.62" r="7.6" fill="#ff0000"/>
<path d="M109.50,451.40 L122.90,451.39 L136.30,451.37 L149.70,451.36 L163.10,451.34 L176.50,451.33 L189.90,451.31 L203.30,451.28 L216.70,451.26 L230.10,451.23 L243.50,451.20 L256.90,450.90 L270.30,450.29 L283.70,449.59 L297.10,448.49 L310.50,447.13 L323.90,445.17 L337.30,444.36 L350.70,442.96 L364.10,440.65 L377.50,437.33 L390.90,432.61 L404.30,427.88 L417.70,421.15 L431.10,412.51 L444.50,401.25 L457.90,386.07 L471.30,365.17 L484.70,335.52 L498.10,293.11 L511.50,227.69 L524.90,119.85 L538.30,-44.97" fill="none" stroke="#0000ff" stroke-width="4" stroke-dasharray="0 8" stroke-linecap="round" clip-path="url(#ca)"/>
<polygon points="109.50,441.73 101.25,456.23 117.75,456.23" fill="#0000ff"/>
<polygon points="122.90,441.72 114.65,456.22 131.15,456.22" fill="#0000ff"/>
<polygon points="136.30,441.71 128.05,456.21 144.55,456.21" fill="#0000ff"/>
<polygon points="149.70,441.69 141.45,456.19 157.95,456.19" fill="#0000ff"/>
<polygon points="163.10,441.68 154.85,456.18 171.35,456.18" fill="#0000ff"/>
<polygon points="176.50,441.66 168.25,456.16 184.75,456.16" fill="#0000ff"/>
<polygon points="189.90,441.64 181.65,456.14 198.15,456.14" fill="#0000ff"/>
<polygon points="203.30,441.62 195.05,456.12 211.55,456.12" fill="#0000ff"/>
<polygon points="216.70,441.59 208.45,456.09 224.95,456.09" fill="#0000ff"/>
<polygon points="230.10,441.56 221.85,456.06 238.35,456.06" fill="#0000ff"/>
<polygon points="243.50,441.53 235.25,456.03 251.75,456.03" fill="#0000ff"/>
<polygon points="256.90,441.23 248.65,455.73 265.15,455.73" fill="#0000ff"/>
<polygon points="270.30,440.63 262.05,455.13 278.55,455.13" fill="#0000ff"/>
<polygon points="283.70,439.93 275.45,454.43 291.95,454.43" fill="#0000ff"/>
<polygon points="297.10,438.82 288.85,453.32 305.35,453.32" fill="#0000ff"/>
<polygon points="310.50,437.46 302.25,451.96 318.75,451.96" fill="#0000ff"/>
<polygon points="323.90,435.50 315.65,450.00 332.15,450.00" fill="#0000ff"/>
<polygon points="337.30,434.70 329.05,449.20 345.55,449.20" fill="#0000ff"/>
<polygon points="350.70,433.29 342.45,447.79 358.95,447.79" fill="#0000ff"/>
<polygon points="364.10,430.98 355.85,445.48 372.35,445.48" fill="#0000ff"/>
<polygon points="377.50,427.66 369.25,442.16 385.75,442.16" fill="#0000ff"/>
<polygon points="390.90,422.94 382.65,437.44 399.15,437.44" fill="#0000ff"/>
<polygon points="404.30,418.22 396.05,432.72 412.55,432.72" fill="#0000ff"/>
<polygon points="417.70,411.48 409.45,425.98 425.95,425.98" fill="#0000ff"/>
<polygon points="431.10,402.84 422.85,417.34 439.35,417.34" fill="#0000ff"/>
<polygon points="444.50,391.58 436.25,406.08 452.75,406.08" fill="#0000ff"/>
<polygon points="457.90,376.41 449.65,390.91 466.15,390.91" fill="#0000ff"/>
<polygon points="471.30,355.50 463.05,370.00 479.55,370.00" fill="#0000ff"/>
<polygon points="484.70,325.86 476.45,340.36 492.95,340.36" fill="#0000ff"/>
<polygon points="498.10,283.45 489.85,297.95 506.35,297.95" fill="#0000ff"/>
<polygon points="511.50,218.02 503.25,232.52 519.75,232.52" fill="#0000ff"/>
<polygon points="524.90,110.18 516.65,124.68 533.15,124.68" fill="#0000ff"/>
</g>
<line x1="134" y1="71.2" x2="191" y2="71.2" stroke="#ff0000" stroke-width="3.2" stroke-linecap="round"/>
<circle cx="162" cy="71.2" r="6.9" fill="#fff" stroke="#ff0000" stroke-width="1.6"/>
<text x="201.9" y="79.5" font-size="23.2" text-anchor="start" fill="#000" font-weight="bold" textLength="82.82" lengthAdjust="spacingAndGlyphs" >DBFPO</text>
<line x1="134" y1="100.0" x2="191" y2="100.0" stroke="#0000ff" stroke-width="3.2" stroke-linecap="round"/>
<polygon points="162.00,91.33 154.50,104.33 169.50,104.33" fill="#fff" stroke="#0000ff" stroke-width="1.6"/>
<text x="201.9" y="108.3" font-size="23.2" text-anchor="start" fill="#000" font-weight="bold" textLength="82.85" lengthAdjust="spacingAndGlyphs" >DPEPO</text>
<circle cx="136.00" cy="128.80" r="2.1" fill="#ff0000"/>
<circle cx="144.00" cy="128.80" r="2.1" fill="#ff0000"/>
<circle cx="152.00" cy="128.80" r="2.1" fill="#ff0000"/>
<circle cx="177.00" cy="128.80" r="2.1" fill="#ff0000"/>
<circle cx="185.00" cy="128.80" r="2.1" fill="#ff0000"/>
<circle cx="162" cy="128.8" r="7.8" fill="#ff0000"/>
<text x="201.9" y="137.10000000000002" font-size="23.2" text-anchor="start" fill="#000" font-weight="bold" textLength="220.82" lengthAdjust="spacingAndGlyphs" >DBFPO:DMAC-DMT</text>
<circle cx="136.00" cy="157.60" r="2.1" fill="#0000ff"/>
<circle cx="144.00" cy="157.60" r="2.1" fill="#0000ff"/>
<circle cx="152.00" cy="157.60" r="2.1" fill="#0000ff"/>
<circle cx="177.00" cy="157.60" r="2.1" fill="#0000ff"/>
<circle cx="185.00" cy="157.60" r="2.1" fill="#0000ff"/>
<polygon points="162.00,147.93 153.75,162.43 170.25,162.43" fill="#0000ff"/>
<text x="201.9" y="165.90000000000003" font-size="23.2" text-anchor="start" fill="#000" font-weight="bold" textLength="220.85" lengthAdjust="spacingAndGlyphs" >DPEPO:DMAC-DMT</text>
<rect x="180.8" y="754.6" width="54.7" height="174.4" fill="#b89ad8"/>
<rect x="238.6" y="745" width="70.7" height="205.6" fill="#c8c8c8"/>
<rect x="313.3" y="754.5" width="54.5" height="174.7" fill="#b89ad8"/>
<text x="153.6" y="815.2" font-size="18.5" text-anchor="middle" fill="#595959" font-weight="bold" textLength="33.34" lengthAdjust="spacingAndGlyphs" >150</text>
<text x="207.9" y="815.2" font-size="18.5" text-anchor="middle" fill="#595959" font-weight="bold" textLength="22.22" lengthAdjust="spacingAndGlyphs" >40</text>
<text x="271.4" y="815.5" font-size="18.5" text-anchor="middle" fill="#595959" font-weight="bold" textLength="22.22" lengthAdjust="spacingAndGlyphs" >25</text>
<text x="337.2" y="815.5" font-size="18.5" text-anchor="middle" fill="#595959" font-weight="bold" textLength="22.22" lengthAdjust="spacingAndGlyphs" >30</text>
<text x="374.2" y="815.9" font-size="19" text-anchor="start" fill="#595959" font-weight="bold" textLength="100.09" lengthAdjust="spacingAndGlyphs" >1.5/100 nm</text>
<text x="153.1" y="852" font-size="18.2" text-anchor="middle" fill="#000" font-weight="bold" textLength="33.0" lengthAdjust="spacingAndGlyphs" >ITO</text>
<line x1="125.6" y1="860.9" x2="177.8" y2="860.9" stroke="#111" stroke-width="2"/>
<text x="209.8" y="881.9" font-size="16" text-anchor="middle" fill="#000" font-weight="bold" textLength="38.27" lengthAdjust="spacingAndGlyphs" >TPBi</text>
<text x="342.4" y="881.3" font-size="16" text-anchor="middle" fill="#000" font-weight="bold" textLength="39.36" lengthAdjust="spacingAndGlyphs" >TPBi</text>
<text x="276" y="840.7" font-size="16.3" text-anchor="middle" fill="#f01010" font-weight="bold" textLength="38.03" lengthAdjust="spacingAndGlyphs" >Host</text>
<text x="276" y="861.1" font-size="16.3" text-anchor="middle" fill="#f01010" font-weight="bold" textLength="17.12" lengthAdjust="spacingAndGlyphs" >or</text>
<text x="276" y="881.5" font-size="16.3" text-anchor="middle" fill="#f01010" font-weight="bold" textLength="43.73" lengthAdjust="spacingAndGlyphs" >Host:</text>
<text x="276" y="901.9000000000001" font-size="16.3" text-anchor="middle" fill="#f01010" font-weight="bold" textLength="57.04" lengthAdjust="spacingAndGlyphs" >DMAC-</text>
<text x="276" y="922.3000000000001" font-size="16.3" text-anchor="middle" fill="#f01010" font-weight="bold" textLength="37.07" lengthAdjust="spacingAndGlyphs" >DMT</text>
<text x="276" y="942.7" font-size="16.3" text-anchor="middle" fill="#f01010" font-weight="bold" textLength="45.65" lengthAdjust="spacingAndGlyphs" >(40%)</text>
<text x="407.3" y="790.6" font-size="18.3" text-anchor="middle" fill="#000" font-weight="bold" textLength="52.86" lengthAdjust="spacingAndGlyphs" >LiF/Al</text>
<line x1="368.1" y1="766.8" x2="449.2" y2="766.8" stroke="#111" stroke-width="2"/>
<path d="M368,746.2 L161.3,746.2 L161.3,741 L143.7,754.6 L161.3,771.3 L161.3,763.6 L368,763.6 Z" fill="rgba(255,45,45,0.63)" stroke="#e8202c" stroke-width="1.8"/>
<ellipse cx="383.9" cy="748.6" rx="10.6" ry="12" fill="url(#minusg)"/>
<rect x="377" y="747.4" width="14.7" height="3.2" fill="#fff"/>
<circle cx="379.2" cy="743.4" r="1.3" fill="#ff9090"/>
<path d="M115,1000.3 L115,603.2 L650,603.2 L650,1000.3 Z" fill="none" stroke="#000" stroke-width="3.6" stroke-linejoin="round"/>
<line x1="115" y1="1000.30" x2="122" y2="1000.30" stroke="#000" stroke-width="2.6"/>
<line x1="115" y1="980.44" x2="121" y2="980.44" stroke="#000" stroke-width="2.6"/>
<line x1="115" y1="960.59" x2="121" y2="960.59" stroke="#000" stroke-width="2.6"/>
<line x1="115" y1="940.74" x2="121" y2="940.74" stroke="#000" stroke-width="2.6"/>
<line x1="115" y1="920.88" x2="121" y2="920.88" stroke="#000" stroke-width="2.6"/>
<line x1="115" y1="901.02" x2="122" y2="901.02" stroke="#000" stroke-width="2.6"/>
<line x1="115" y1="881.17" x2="121" y2="881.17" stroke="#000" stroke-width="2.6"/>
<line x1="115" y1="861.32" x2="121" y2="861.32" stroke="#000" stroke-width="2.6"/>
<line x1="115" y1="841.46" x2="121" y2="841.46" stroke="#000" stroke-width="2.6"/>
<line x1="115" y1="821.61" x2="121" y2="821.61" stroke="#000" stroke-width="2.6"/>
<line x1="115" y1="801.75" x2="122" y2="801.75" stroke="#000" stroke-width="2.6"/>
<line x1="115" y1="781.89" x2="121" y2="781.89" stroke="#000" stroke-width="2.6"/>
<line x1="115" y1="762.04" x2="121" y2="762.04" stroke="#000" stroke-width="2.6"/>
<line x1="115" y1="742.18" x2="121" y2="742.18" stroke="#000" stroke-width="2.6"/>
<line x1="115" y1="722.33" x2="121" y2="722.33" stroke="#000" stroke-width="2.6"/>
<line x1="115" y1="702.48" x2="122" y2="702.48" stroke="#000" stroke-width="2.6"/>
<line x1="115" y1="682.62" x2="121" y2="682.62" stroke="#000" stroke-width="2.6"/>
<line x1="115" y1="662.77" x2="121" y2="662.77" stroke="#000" stroke-width="2.6"/>
<line x1="115" y1="642.91" x2="121" y2="642.91" stroke="#000" stroke-width="2.6"/>
<line x1="115" y1="623.06" x2="121" y2="623.06" stroke="#000" stroke-width="2.6"/>
<line x1="115" y1="603.20" x2="122" y2="603.20" stroke="#000" stroke-width="2.6"/>
<line x1="115.00" y1="1000.3" x2="115.00" y2="993.8" stroke="#000" stroke-width="2.6"/>
<line x1="129.27" y1="1000.3" x2="129.27" y2="995.3" stroke="#000" stroke-width="2.6"/>
<line x1="143.53" y1="1000.3" x2="143.53" y2="995.3" stroke="#000" stroke-width="2.6"/>
<line x1="157.80" y1="1000.3" x2="157.80" y2="995.3" stroke="#000" stroke-width="2.6"/>
<line x1="172.07" y1="1000.3" x2="172.07" y2="995.3" stroke="#000" stroke-width="2.6"/>
<line x1="186.33" y1="1000.3" x2="186.33" y2="993.8" stroke="#000" stroke-width="2.6"/>
<line x1="200.60" y1="1000.3" x2="200.60" y2="995.3" stroke="#000" stroke-width="2.6"/>
<line x1="214.87" y1="1000.3" x2="214.87" y2="995.3" stroke="#000" stroke-width="2.6"/>
<line x1="229.13" y1="1000.3" x2="229.13" y2="995.3" stroke="#000" stroke-width="2.6"/>
<line x1="243.40" y1="1000.3" x2="243.40" y2="995.3" stroke="#000" stroke-width="2.6"/>
<line x1="257.67" y1="1000.3" x2="257.67" y2="993.8" stroke="#000" stroke-width="2.6"/>
<line x1="271.93" y1="1000.3" x2="271.93" y2="995.3" stroke="#000" stroke-width="2.6"/>
<line x1="286.20" y1="1000.3" x2="286.20" y2="995.3" stroke="#000" stroke-width="2.6"/>
<line x1="300.47" y1="1000.3" x2="300.47" y2="995.3" stroke="#000" stroke-width="2.6"/>
<line x1="314.73" y1="1000.3" x2="314.73" y2="995.3" stroke="#000" stroke-width="2.6"/>
<line x1="329.00" y1="1000.3" x2="329.00" y2="993.8" stroke="#000" stroke-width="2.6"/>
<line x1="343.27" y1="1000.3" x2="343.27" y2="995.3" stroke="#000" stroke-width="2.6"/>
<line x1="357.53" y1="1000.3" x2="357.53" y2="995.3" stroke="#000" stroke-width="2.6"/>
<line x1="371.80" y1="1000.3" x2="371.80" y2="995.3" stroke="#000" stroke-width="2.6"/>
<line x1="386.07" y1="1000.3" x2="386.07" y2="995.3" stroke="#000" stroke-width="2.6"/>
<line x1="400.33" y1="1000.3" x2="400.33" y2="993.8" stroke="#000" stroke-width="2.6"/>
<line x1="414.60" y1="1000.3" x2="414.60" y2="995.3" stroke="#000" stroke-width="2.6"/>
<line x1="428.87" y1="1000.3" x2="428.87" y2="995.3" stroke="#000" stroke-width="2.6"/>
<line x1="443.13" y1="1000.3" x2="443.13" y2="995.3" stroke="#000" stroke-width="2.6"/>
<line x1="457.40" y1="1000.3" x2="457.40" y2="995.3" stroke="#000" stroke-width="2.6"/>
<line x1="471.67" y1="1000.3" x2="471.67" y2="993.8" stroke="#000" stroke-width="2.6"/>
<line x1="485.93" y1="1000.3" x2="485.93" y2="995.3" stroke="#000" stroke-width="2.6"/>
<line x1="500.20" y1="1000.3" x2="500.20" y2="995.3" stroke="#000" stroke-width="2.6"/>
<line x1="514.47" y1="1000.3" x2="514.47" y2="995.3" stroke="#000" stroke-width="2.6"/>
<line x1="528.73" y1="1000.3" x2="528.73" y2="995.3" stroke="#000" stroke-width="2.6"/>
<line x1="543.00" y1="1000.3" x2="543.00" y2="993.8" stroke="#000" stroke-width="2.6"/>
<line x1="557.27" y1="1000.3" x2="557.27" y2="995.3" stroke="#000" stroke-width="2.6"/>
<line x1="571.53" y1="1000.3" x2="571.53" y2="995.3" stroke="#000" stroke-width="2.6"/>
<line x1="585.80" y1="1000.3" x2="585.80" y2="995.3" stroke="#000" stroke-width="2.6"/>
<line x1="600.07" y1="1000.3" x2="600.07" y2="995.3" stroke="#000" stroke-width="2.6"/>
<line x1="614.33" y1="1000.3" x2="614.33" y2="993.8" stroke="#000" stroke-width="2.6"/>
<line x1="628.60" y1="1000.3" x2="628.60" y2="995.3" stroke="#000" stroke-width="2.6"/>
<line x1="642.87" y1="1000.3" x2="642.87" y2="995.3" stroke="#000" stroke-width="2.6"/>
<text x="101.8" y="610.3000000000001" font-size="21.5" text-anchor="end" fill="#000" font-weight="bold" textLength="38.74" lengthAdjust="spacingAndGlyphs" >400</text>
<text x="101.8" y="709.575" font-size="21.5" text-anchor="end" fill="#000" font-weight="bold" textLength="38.74" lengthAdjust="spacingAndGlyphs" >300</text>
<text x="101.8" y="808.85" font-size="21.5" text-anchor="end" fill="#000" font-weight="bold" textLength="38.74" lengthAdjust="spacingAndGlyphs" >200</text>
<text x="101.8" y="908.125" font-size="21.5" text-anchor="end" fill="#000" font-weight="bold" textLength="38.74" lengthAdjust="spacingAndGlyphs" >100</text>
<text x="101.8" y="1007.4" font-size="21.5" text-anchor="end" fill="#000" font-weight="bold" textLength="12.91" lengthAdjust="spacingAndGlyphs" >0</text>
<text x="115.0" y="1031.9" font-size="21.5" text-anchor="middle" fill="#000" font-weight="bold" textLength="12.56" lengthAdjust="spacingAndGlyphs" >0</text>
<text x="186.33333333333331" y="1031.9" font-size="21.5" text-anchor="middle" fill="#000" font-weight="bold" textLength="12.56" lengthAdjust="spacingAndGlyphs" >2</text>
<text x="257.66666666666663" y="1031.9" font-size="21.5" text-anchor="middle" fill="#000" font-weight="bold" textLength="12.56" lengthAdjust="spacingAndGlyphs" >4</text>
<text x="329.0" y="1031.9" font-size="21.5" text-anchor="middle" fill="#000" font-weight="bold" textLength="12.56" lengthAdjust="spacingAndGlyphs" >6</text>
<text x="400.3333333333333" y="1031.9" font-size="21.5" text-anchor="middle" fill="#000" font-weight="bold" textLength="12.56" lengthAdjust="spacingAndGlyphs" >8</text>
<text x="471.6666666666667" y="1031.9" font-size="21.5" text-anchor="middle" fill="#000" font-weight="bold" textLength="25.11" lengthAdjust="spacingAndGlyphs" >10</text>
<text x="543.0" y="1031.9" font-size="21.5" text-anchor="middle" fill="#000" font-weight="bold" textLength="25.11" lengthAdjust="spacingAndGlyphs" >12</text>
<text x="614.3333333333333" y="1031.9" font-size="21.5" text-anchor="middle" fill="#000" font-weight="bold" textLength="25.11" lengthAdjust="spacingAndGlyphs" >14</text>
<text x="382.1" y="1077" font-size="29" text-anchor="middle" fill="#000" font-weight="bold" textLength="155.28" lengthAdjust="spacingAndGlyphs" >Voltage (V)</text>
<text x="43" y="802.2" font-size="31" font-weight="bold" text-anchor="middle" textLength="349.73" lengthAdjust="spacingAndGlyphs" transform="rotate(-90 43 802.2)">Current Density (mA/cm<tspan font-size="19.2" dy="-11.2">2</tspan><tspan dy="11.2">)</tspan></text>
<text x="24.8" y="580.5" font-size="31.5" text-anchor="middle" fill="#000" font-weight="bold" textLength="44.65" lengthAdjust="spacingAndGlyphs" >(b)</text>
<text x="375.4" y="591.5" font-size="25" text-anchor="middle" fill="#000" font-weight="bold" textLength="331.65" lengthAdjust="spacingAndGlyphs" >&lt; Electron only devices &gt;</text>
<path d="M115.00,999.31 L132.83,999.31 L150.67,999.31 L168.50,999.31 L186.33,999.31 L204.17,999.31 L222.00,999.31 L239.83,999.31 L257.67,986.00 L275.50,985.41 L293.33,984.42 L311.17,983.42 L329.00,981.44 L346.83,978.46 L364.67,971.51 L382.50,962.58 L400.33,950.46 L418.17,933.79 L436.00,913.53 L453.83,889.11 L471.67,860.02 L489.50,825.48 L507.33,784.87 L525.17,737.52 L543.00,684.90 L560.83,626.63 L578.67,567.46 L596.50,513.08 L614.33,451.86 L632.17,382.94 L650.00,305.38" fill="none" stroke="#ff0000" stroke-width="3" stroke-linejoin="round" clip-path="url(#cb)"/>
<circle cx="115.00" cy="999.31" r="6.9" fill="#fff" stroke="#ff0000" stroke-width="1.6"/>
<circle cx="132.83" cy="999.31" r="6.9" fill="#fff" stroke="#ff0000" stroke-width="1.6"/>
<circle cx="150.67" cy="999.31" r="6.9" fill="#fff" stroke="#ff0000" stroke-width="1.6"/>
<circle cx="168.50" cy="999.31" r="6.9" fill="#fff" stroke="#ff0000" stroke-width="1.6"/>
<circle cx="186.33" cy="999.31" r="6.9" fill="#fff" stroke="#ff0000" stroke-width="1.6"/>
<circle cx="204.17" cy="999.31" r="6.9" fill="#fff" stroke="#ff0000" stroke-width="1.6"/>
<circle cx="222.00" cy="999.31" r="6.9" fill="#fff" stroke="#ff0000" stroke-width="1.6"/>
<circle cx="239.83" cy="999.31" r="6.9" fill="#fff" stroke="#ff0000" stroke-width="1.6"/>
<circle cx="257.67" cy="986.00" r="6.9" fill="#fff" stroke="#ff0000" stroke-width="1.6"/>
<circle cx="275.50" cy="985.41" r="6.9" fill="#fff" stroke="#ff0000" stroke-width="1.6"/>
<circle cx="293.33" cy="984.42" r="6.9" fill="#fff" stroke="#ff0000" stroke-width="1.6"/>
<circle cx="311.17" cy="983.42" r="6.9" fill="#fff" stroke="#ff0000" stroke-width="1.6"/>
<circle cx="329.00" cy="981.44" r="6.9" fill="#fff" stroke="#ff0000" stroke-width="1.6"/>
<circle cx="346.83" cy="978.46" r="6.9" fill="#fff" stroke="#ff0000" stroke-width="1.6"/>
<circle cx="364.67" cy="971.51" r="6.9" fill="#fff" stroke="#ff0000" stroke-width="1.6"/>
<circle cx="382.50" cy="962.58" r="6.9" fill="#fff" stroke="#ff0000" stroke-width="1.6"/>
<circle cx="400.33" cy="950.46" r="6.9" fill="#fff" stroke="#ff0000" stroke-width="1.6"/>
<circle cx="418.17" cy="933.79" r="6.9" fill="#fff" stroke="#ff0000" stroke-width="1.6"/>
<circle cx="436.00" cy="913.53" r="6.9" fill="#fff" stroke="#ff0000" stroke-width="1.6"/>
<circle cx="453.83" cy="889.11" r="6.9" fill="#fff" stroke="#ff0000" stroke-width="1.6"/>
<circle cx="471.67" cy="860.02" r="6.9" fill="#fff" stroke="#ff0000" stroke-width="1.6"/>
<circle cx="489.50" cy="825.48" r="6.9" fill="#fff" stroke="#ff0000" stroke-width="1.6"/>
<circle cx="507.33" cy="784.87" r="6.9" fill="#fff" stroke="#ff0000" stroke-width="1.6"/>
<circle cx="525.17" cy="737.52" r="6.9" fill="#fff" stroke="#ff0000" stroke-width="1.6"/>
<circle cx="543.00" cy="684.90" r="6.9" fill="#fff" stroke="#ff0000" stroke-width="1.6"/>
<circle cx="560.83" cy="626.63" r="6.9" fill="#fff" stroke="#ff0000" stroke-width="1.6"/>
<path d="M115.00,999.31 L132.83,999.31 L150.67,999.31 L168.50,999.31 L186.33,999.31 L204.17,999.31 L222.00,999.31 L239.83,997.32 L257.67,989.38 L275.50,989.38 L293.33,991.86 L311.17,992.36 L329.00,992.36 L346.83,991.37 L364.67,990.37 L382.50,989.38 L400.33,987.39 L418.17,984.91 L436.00,981.44 L453.83,976.97 L471.67,972.80 L489.50,968.93 L507.33,961.28 L525.17,951.95 L543.00,939.54 L560.83,927.23 L578.67,912.34 L596.50,899.34 L614.33,886.93 L632.17,879.18 L650.00,876.11" fill="none" stroke="#0000ff" stroke-width="3" stroke-linejoin="round" clip-path="url(#cb)"/>
<polygon points="115.00,990.64 107.50,1003.64 122.50,1003.64" fill="#fff" stroke="#0000ff" stroke-width="1.8" stroke-linejoin="miter"/>
<polygon points="132.83,990.64 125.33,1003.64 140.33,1003.64" fill="#fff" stroke="#0000ff" stroke-width="1.8" stroke-linejoin="miter"/>
<polygon points="150.67,990.64 143.17,1003.64 158.17,1003.64" fill="#fff" stroke="#0000ff" stroke-width="1.8" stroke-linejoin="miter"/>
<polygon points="168.50,990.64 161.00,1003.64 176.00,1003.64" fill="#fff" stroke="#0000ff" stroke-width="1.8" stroke-linejoin="miter"/>
<polygon points="186.33,990.64 178.83,1003.64 193.83,1003.64" fill="#fff" stroke="#0000ff" stroke-width="1.8" stroke-linejoin="miter"/>
<polygon points="204.17,990.64 196.67,1003.64 211.67,1003.64" fill="#fff" stroke="#0000ff" stroke-width="1.8" stroke-linejoin="miter"/>
<polygon points="222.00,990.64 214.50,1003.64 229.50,1003.64" fill="#fff" stroke="#0000ff" stroke-width="1.8" stroke-linejoin="miter"/>
<polygon points="239.83,988.66 232.33,1001.66 247.33,1001.66" fill="#fff" stroke="#0000ff" stroke-width="1.8" stroke-linejoin="miter"/>
<polygon points="257.67,980.71 250.17,993.71 265.17,993.71" fill="#fff" stroke="#0000ff" stroke-width="1.8" stroke-linejoin="miter"/>
<polygon points="275.50,980.71 268.00,993.71 283.00,993.71" fill="#fff" stroke="#0000ff" stroke-width="1.8" stroke-linejoin="miter"/>
<polygon points="293.33,983.19 285.83,996.19 300.83,996.19" fill="#fff" stroke="#0000ff" stroke-width="1.8" stroke-linejoin="miter"/>
<polygon points="311.17,983.69 303.67,996.69 318.67,996.69" fill="#fff" stroke="#0000ff" stroke-width="1.8" stroke-linejoin="miter"/>
<polygon points="329.00,983.69 321.50,996.69 336.50,996.69" fill="#fff" stroke="#0000ff" stroke-width="1.8" stroke-linejoin="miter"/>
<polygon points="346.83,982.70 339.33,995.70 354.33,995.70" fill="#fff" stroke="#0000ff" stroke-width="1.8" stroke-linejoin="miter"/>
<polygon points="364.67,981.71 357.17,994.71 372.17,994.71" fill="#fff" stroke="#0000ff" stroke-width="1.8" stroke-linejoin="miter"/>
<polygon points="382.50,980.71 375.00,993.71 390.00,993.71" fill="#fff" stroke="#0000ff" stroke-width="1.8" stroke-linejoin="miter"/>
<polygon points="400.33,978.73 392.83,991.73 407.83,991.73" fill="#fff" stroke="#0000ff" stroke-width="1.8" stroke-linejoin="miter"/>
<polygon points="418.17,976.25 410.67,989.25 425.67,989.25" fill="#fff" stroke="#0000ff" stroke-width="1.8" stroke-linejoin="miter"/>
<polygon points="436.00,972.77 428.50,985.77 443.50,985.77" fill="#fff" stroke="#0000ff" stroke-width="1.8" stroke-linejoin="miter"/>
<polygon points="453.83,968.30 446.33,981.30 461.33,981.30" fill="#fff" stroke="#0000ff" stroke-width="1.8" stroke-linejoin="miter"/>
<polygon points="471.67,964.13 464.17,977.13 479.17,977.13" fill="#fff" stroke="#0000ff" stroke-width="1.8" stroke-linejoin="miter"/>
<polygon points="489.50,960.26 482.00,973.26 497.00,973.26" fill="#fff" stroke="#0000ff" stroke-width="1.8" stroke-linejoin="miter"/>
<polygon points="507.33,952.62 499.83,965.62 514.83,965.62" fill="#fff" stroke="#0000ff" stroke-width="1.8" stroke-linejoin="miter"/>
<polygon points="525.17,943.29 517.67,956.29 532.67,956.29" fill="#fff" stroke="#0000ff" stroke-width="1.8" stroke-linejoin="miter"/>
<polygon points="543.00,930.88 535.50,943.88 550.50,943.88" fill="#fff" stroke="#0000ff" stroke-width="1.8" stroke-linejoin="miter"/>
<polygon points="560.83,918.57 553.33,931.57 568.33,931.57" fill="#fff" stroke="#0000ff" stroke-width="1.8" stroke-linejoin="miter"/>
<polygon points="578.67,903.68 571.17,916.68 586.17,916.68" fill="#fff" stroke="#0000ff" stroke-width="1.8" stroke-linejoin="miter"/>
<polygon points="596.50,890.67 589.00,903.67 604.00,903.67" fill="#fff" stroke="#0000ff" stroke-width="1.8" stroke-linejoin="miter"/>
<polygon points="614.33,878.26 606.83,891.26 621.83,891.26" fill="#fff" stroke="#0000ff" stroke-width="1.8" stroke-linejoin="miter"/>
<polygon points="632.17,870.52 624.67,883.52 639.67,883.52" fill="#fff" stroke="#0000ff" stroke-width="1.8" stroke-linejoin="miter"/>
<polygon points="650.00,867.44 642.50,880.44 657.50,880.44" fill="#fff" stroke="#0000ff" stroke-width="1.8" stroke-linejoin="miter"/>
<path d="M115.00,999.31 L132.83,999.27 L150.67,999.22 L168.50,999.18 L186.33,999.13 L204.17,999.08 L222.00,999.03 L239.83,998.98 L257.67,998.93 L275.50,998.87 L293.33,998.81 L311.17,989.58 L329.00,989.58 L346.83,986.00 L364.67,983.62 L382.50,978.76 L400.33,973.89 L418.17,966.65 L436.00,957.71 L453.83,946.69 L471.67,932.20 L489.50,912.64 L507.33,887.62 L525.17,853.97 L543.00,811.98 L560.83,757.18 L578.67,689.07 L596.50,607.67 L614.33,513.85 L632.17,418.88 L650.00,305.38" fill="none" stroke="#ff0000" stroke-width="4" stroke-dasharray="0 8" stroke-linecap="round" clip-path="url(#cb)"/>
<circle cx="115.00" cy="999.31" r="7.6" fill="#ff0000"/>
<circle cx="132.83" cy="999.27" r="7.6" fill="#ff0000"/>
<circle cx="150.67" cy="999.22" r="7.6" fill="#ff0000"/>
<circle cx="168.50" cy="999.18" r="7.6" fill="#ff0000"/>
<circle cx="186.33" cy="999.13" r="7.6" fill="#ff0000"/>
<circle cx="204.17" cy="999.08" r="7.6" fill="#ff0000"/>
<circle cx="222.00" cy="999.03" r="7.6" fill="#ff0000"/>
<circle cx="239.83" cy="998.98" r="7.6" fill="#ff0000"/>
<circle cx="257.67" cy="998.93" r="7.6" fill="#ff0000"/>
<circle cx="275.50" cy="998.87" r="7.6" fill="#ff0000"/>
<circle cx="293.33" cy="998.81" r="7.6" fill="#ff0000"/>
<circle cx="311.17" cy="989.58" r="7.6" fill="#ff0000"/>
<circle cx="329.00" cy="989.58" r="7.6" fill="#ff0000"/>
<circle cx="346.83" cy="986.00" r="7.6" fill="#ff0000"/>
<circle cx="364.67" cy="983.62" r="7.6" fill="#ff0000"/>
<circle cx="382.50" cy="978.76" r="7.6" fill="#ff0000"/>
<circle cx="400.33" cy="973.89" r="7.6" fill="#ff0000"/>
<circle cx="418.17" cy="966.65" r="7.6" fill="#ff0000"/>
<circle cx="436.00" cy="957.71" r="7.6" fill="#ff0000"/>
<circle cx="453.83" cy="946.69" r="7.6" fill="#ff0000"/>
<circle cx="471.67" cy="932.20" r="7.6" fill="#ff0000"/>
<circle cx="489.50" cy="912.64" r="7.6" fill="#ff0000"/>
<circle cx="507.33" cy="887.62" r="7.6" fill="#ff0000"/>
<circle cx="525.17" cy="853.97" r="7.6" fill="#ff0000"/>
<circle cx="543.00" cy="811.98" r="7.6" fill="#ff0000"/>
<circle cx="560.83" cy="757.18" r="7.6" fill="#ff0000"/>
<circle cx="578.67" cy="689.07" r="7.6" fill="#ff0000"/>
<circle cx="596.50" cy="607.67" r="7.6" fill="#ff0000"/>
<path d="M115.00,999.61 L132.83,999.58 L150.67,999.55 L168.50,999.53 L186.33,999.50 L204.17,999.47 L222.00,999.44 L239.83,999.41 L257.67,999.38 L275.50,999.34 L293.33,999.31 L311.17,998.90 L329.00,998.31 L346.83,997.87 L364.67,997.32 L382.50,996.86 L400.33,996.33 L418.17,995.64 L436.00,994.84 L453.83,993.35 L471.67,992.26 L489.50,989.08 L507.33,987.59 L525.17,982.83 L543.00,978.26 L560.83,973.69 L578.67,968.93 L596.50,962.77 L614.33,951.95 L632.17,941.13 L650.00,928.72" fill="none" stroke="#0000ff" stroke-width="4" stroke-dasharray="0 8" stroke-linecap="round" clip-path="url(#cb)"/>
<polygon points="115.00,989.94 106.75,1004.44 123.25,1004.44" fill="#0000ff"/>
<polygon points="132.83,989.91 124.58,1004.41 141.08,1004.41" fill="#0000ff"/>
<polygon points="150.67,989.89 142.42,1004.39 158.92,1004.39" fill="#0000ff"/>
<polygon points="168.50,989.86 160.25,1004.36 176.75,1004.36" fill="#0000ff"/>
<polygon points="186.33,989.83 178.08,1004.33 194.58,1004.33" fill="#0000ff"/>
<polygon points="204.17,989.80 195.92,1004.30 212.42,1004.30" fill="#0000ff"/>
<polygon points="222.00,989.77 213.75,1004.27 230.25,1004.27" fill="#0000ff"/>
<polygon points="239.83,989.74 231.58,1004.24 248.08,1004.24" fill="#0000ff"/>
<polygon points="257.67,989.71 249.42,1004.21 265.92,1004.21" fill="#0000ff"/>
<polygon points="275.50,989.68 267.25,1004.18 283.75,1004.18" fill="#0000ff"/>
<polygon points="293.33,989.64 285.08,1004.14 301.58,1004.14" fill="#0000ff"/>
<polygon points="311.17,989.23 302.92,1003.73 319.42,1003.73" fill="#0000ff"/>
<polygon points="329.00,988.65 320.75,1003.15 337.25,1003.15" fill="#0000ff"/>
<polygon points="346.83,988.20 338.58,1002.70 355.08,1002.70" fill="#0000ff"/>
<polygon points="364.67,987.66 356.42,1002.16 372.92,1002.16" fill="#0000ff"/>
<polygon points="382.50,987.19 374.25,1001.69 390.75,1001.69" fill="#0000ff"/>
<polygon points="400.33,986.66 392.08,1001.16 408.58,1001.16" fill="#0000ff"/>
<polygon points="418.17,985.98 409.92,1000.48 426.42,1000.48" fill="#0000ff"/>
<polygon points="436.00,985.17 427.75,999.67 444.25,999.67" fill="#0000ff"/>
<polygon points="453.83,983.68 445.58,998.18 462.08,998.18" fill="#0000ff"/>
<polygon points="471.67,982.59 463.42,997.09 479.92,997.09" fill="#0000ff"/>
<polygon points="489.50,979.42 481.25,993.92 497.75,993.92" fill="#0000ff"/>
<polygon points="507.33,977.93 499.08,992.43 515.58,992.43" fill="#0000ff"/>
<polygon points="525.17,973.16 516.92,987.66 533.42,987.66" fill="#0000ff"/>
<polygon points="543.00,968.59 534.75,983.09 551.25,983.09" fill="#0000ff"/>
<polygon points="560.83,964.03 552.58,978.53 569.08,978.53" fill="#0000ff"/>
<polygon points="578.67,959.26 570.42,973.76 586.92,973.76" fill="#0000ff"/>
<polygon points="596.50,953.11 588.25,967.61 604.75,967.61" fill="#0000ff"/>
<polygon points="614.33,942.29 606.08,956.79 622.58,956.79" fill="#0000ff"/>
<polygon points="632.17,931.47 623.92,945.97 640.42,945.97" fill="#0000ff"/>
<polygon points="650.00,919.06 641.75,933.56 658.25,933.56" fill="#0000ff"/>
<line x1="137.2" y1="623.9" x2="194.2" y2="623.9" stroke="#ff0000" stroke-width="3.2" stroke-linecap="round"/>
<circle cx="165.2" cy="623.9" r="6.9" fill="#fff" stroke="#ff0000" stroke-width="1.6"/>
<text x="206.0" y="632.1999999999999" font-size="23.2" text-anchor="start" fill="#000" font-weight="bold" textLength="82.82" lengthAdjust="spacingAndGlyphs" >DBFPO</text>
<line x1="137.2" y1="652.6999999999999" x2="194.2" y2="652.6999999999999" stroke="#0000ff" stroke-width="3.2" stroke-linecap="round"/>
<polygon points="165.20,644.03 157.70,657.03 172.70,657.03" fill="#fff" stroke="#0000ff" stroke-width="1.6"/>
<text x="206.0" y="660.9999999999999" font-size="23.2" text-anchor="start" fill="#000" font-weight="bold" textLength="82.85" lengthAdjust="spacingAndGlyphs" >DPEPO</text>
<circle cx="139.20" cy="681.50" r="2.1" fill="#ff0000"/>
<circle cx="147.20" cy="681.50" r="2.1" fill="#ff0000"/>
<circle cx="155.20" cy="681.50" r="2.1" fill="#ff0000"/>
<circle cx="180.20" cy="681.50" r="2.1" fill="#ff0000"/>
<circle cx="188.20" cy="681.50" r="2.1" fill="#ff0000"/>
<circle cx="165.2" cy="681.5" r="7.8" fill="#ff0000"/>
<text x="206.0" y="689.8" font-size="23.2" text-anchor="start" fill="#000" font-weight="bold" textLength="220.82" lengthAdjust="spacingAndGlyphs" >DBFPO:DMAC-DMT</text>
<circle cx="139.20" cy="710.30" r="2.1" fill="#0000ff"/>
<circle cx="147.20" cy="710.30" r="2.1" fill="#0000ff"/>
<circle cx="155.20" cy="710.30" r="2.1" fill="#0000ff"/>
<circle cx="180.20" cy="710.30" r="2.1" fill="#0000ff"/>
<circle cx="188.20" cy="710.30" r="2.1" fill="#0000ff"/>
<polygon points="165.20,700.63 156.95,715.13 173.45,715.13" fill="#0000ff"/>
<text x="206.0" y="718.5999999999999" font-size="23.2" text-anchor="start" fill="#000" font-weight="bold" textLength="220.85" lengthAdjust="spacingAndGlyphs" >DPEPO:DMAC-DMT</text>
</svg></body></html>
